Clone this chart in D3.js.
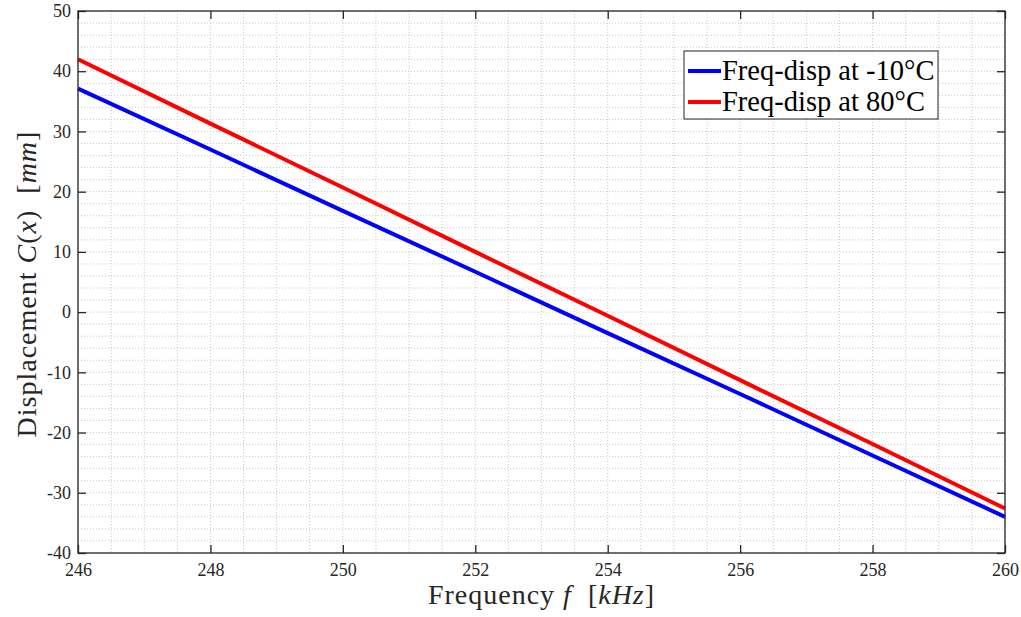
<!DOCTYPE html>
<html lang="en">
<head>
<meta charset="UTF-8">
<title>Displacement vs frequency</title>
<script src="https://d3js.org/d3.v7.min.js"></script>
<style>
  body { margin: 0; background: #fff; }
  .grid line { stroke: #c8c8c8; stroke-width: 1; stroke-dasharray: 1 2; }
  .line { fill: none; stroke-width: 4; }
</style>
</head>
<body>
<script>
// data
const freq = [246, 248, 250, 252, 254, 256, 258, 260];
const dispCold = [37.1, 27.0, 16.8, 6.7, -3.5, -13.6, -23.8, -34.0];
const dispHot = [42.0, 31.3, 20.7, 10.0, -0.6, -11.3, -21.9, -32.6];
const xTicks = [246, 248, 250, 252, 254, 256, 258, 260];
const yTicks = [-40, -30, -20, -10, 0, 10, 20, 30, 40, 50];
const seriesNames = ["Freq-disp at -10°C", "Freq-disp at 80°C"];
const seriesColors = ["#0000ff", "#ff0000"];

const FONT = '"Liberation Serif", "Times New Roman", serif';
const W = 1021, H = 617;
const margin = { top: 11, right: 16, bottom: 64, left: 78 };
const width = W - margin.left - margin.right,
  height = H - margin.top - margin.bottom;

const svg = d3.select("body").append("svg")
  .attr("width", W).attr("height", H)
  .attr("font-family", FONT);
const g = svg.append("g")
  .attr("transform", "translate(" + margin.left + "," + margin.top + ")");

const x = d3.scaleLinear().domain([246, 260]).range([0, width]);
const y = d3.scaleLinear().domain([-40, 50]).range([height, 0]);

// grid (minor + major, all dotted)
const xGrid = d3.range(246, 260.001, 0.5);
const yGrid = d3.range(-40, 50.001, 2);
const grid = g.append("g").attr("class", "grid");
grid.selectAll(".gx").data(xGrid).enter().append("line")
  .attr("x1", d => x(d)).attr("x2", d => x(d))
  .attr("y1", 0).attr("y2", height);
grid.selectAll(".gy").data(yGrid).enter().append("line")
  .attr("x1", 0).attr("x2", width)
  .attr("y1", d => y(d)).attr("y2", d => y(d));

// series
const lineGen = d3.line().x((d, i) => x(freq[i])).y(d => y(d));
[dispCold, dispHot].forEach((s, i) => {
  g.append("path").datum(s)
    .attr("class", "line")
    .attr("stroke", seriesColors[i])
    .attr("d", lineGen);
});

// axes box and inward ticks
const axisColor = "#262626";
const fmt = d => String(d);
function styleAxis(sel) {
  sel.attr("font-family", FONT).attr("font-size", 18);
  sel.select(".domain").remove();
  sel.selectAll(".tick line").attr("stroke", axisColor).attr("stroke-width", 1.3);
  sel.selectAll(".tick text").attr("fill", axisColor);
}
g.append("g").attr("transform", "translate(0," + height + ")")
  .call(d3.axisBottom(x).tickValues(xTicks).tickSize(-8).tickPadding(10).tickFormat(fmt))
  .call(styleAxis);
g.append("g")
  .call(d3.axisTop(x).tickValues(xTicks).tickSize(-8).tickFormat(""))
  .call(styleAxis);
g.append("g")
  .call(d3.axisLeft(y).tickValues(yTicks).tickSize(-8).tickPadding(7).tickFormat(fmt))
  .call(styleAxis);
g.append("g").attr("transform", "translate(" + width + ",0)")
  .call(d3.axisRight(y).tickValues(yTicks).tickSize(-8).tickFormat(""))
  .call(styleAxis);
g.append("rect").attr("width", width).attr("height", height)
  .attr("fill", "none").attr("stroke", axisColor).attr("stroke-width", 1.3);

// axis labels
const xl = svg.append("text")
  .attr("x", margin.left + width / 2).attr("y", 604)
  .attr("text-anchor", "middle").attr("font-size", 28)
  .attr("letter-spacing", 1).attr("fill", axisColor)
  .style("white-space", "pre");
xl.append("tspan").text("Frequency ");
xl.append("tspan").attr("font-style", "italic").text("f");
xl.append("tspan").text("  [");
xl.append("tspan").attr("font-style", "italic").text("kHz");
xl.append("tspan").text("]");

const yl = svg.append("text")
  .attr("transform", "translate(36," + 284 + ") rotate(-90)")
  .attr("text-anchor", "middle").attr("font-size", 28)
  .attr("letter-spacing", 1).attr("fill", axisColor)
  .style("white-space", "pre");
yl.append("tspan").text("Displacement ");
yl.append("tspan").attr("font-style", "italic").text("C");
yl.append("tspan").text("(");
yl.append("tspan").attr("font-style", "italic").text("x");
yl.append("tspan").text(")  [");
yl.append("tspan").attr("font-style", "italic").text("mm");
yl.append("tspan").text("]");

// legend
const lg = svg.append("g").attr("transform", "translate(684,51)");
lg.append("rect").attr("width", 254).attr("height", 68)
  .attr("fill", "#fff").attr("stroke", axisColor).attr("stroke-width", 1);
seriesNames.forEach((name, i) => {
  const yy = 20 + i * 31;
  lg.append("line").attr("x1", 4).attr("x2", 37)
    .attr("y1", yy).attr("y2", yy)
    .attr("stroke", seriesColors[i]).attr("stroke-width", 4);
  lg.append("text").attr("x", 38).attr("y", yy + 9)
    .attr("font-size", 28.5).attr("fill", "#000")
    .text(name);
});
</script>
</body>
</html>
